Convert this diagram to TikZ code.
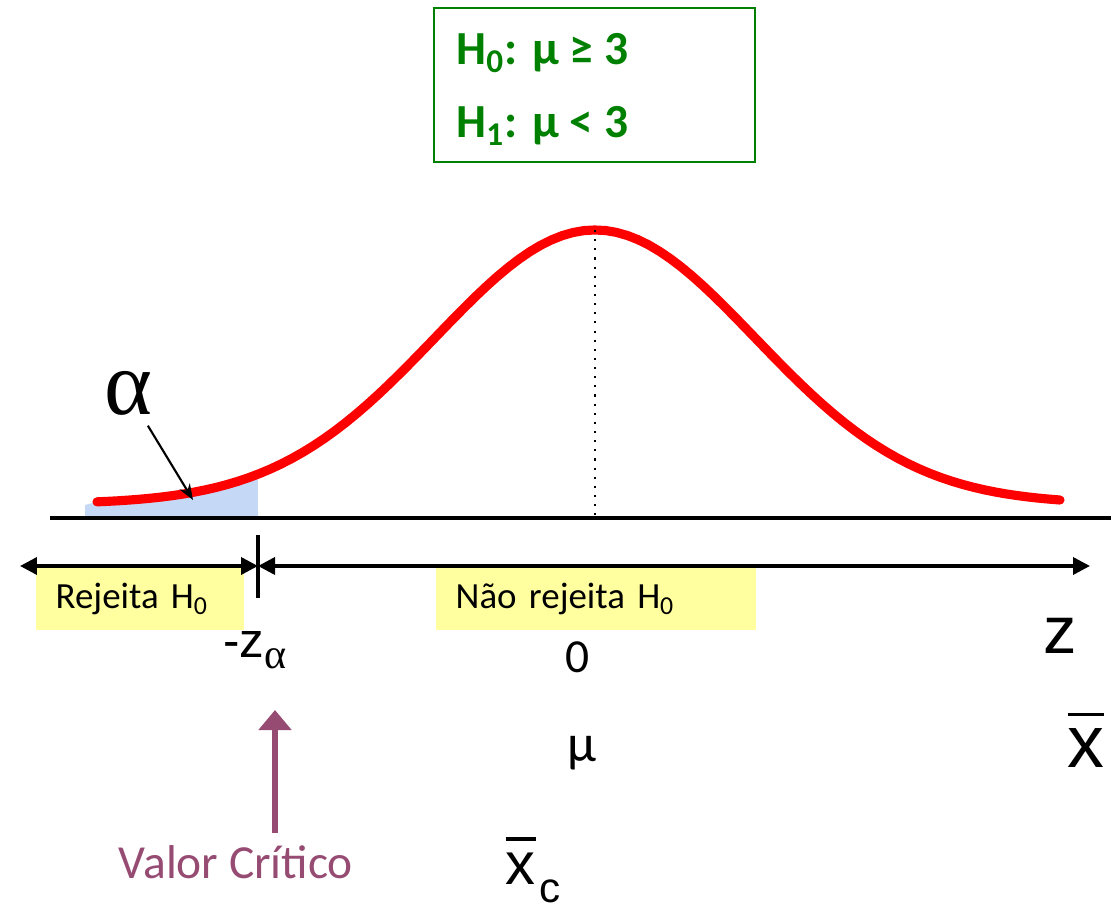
\documentclass[tikz,border=0pt]{standalone}
\usepackage{fontspec}
\usepackage{amsmath}
\setmainfont{Carlito}
\newfontfamily\arialfont{Liberation Sans}
\newfontfamily\gregofont{Liberation Serif}
\usetikzlibrary{arrows.meta,positioning,calc}
\definecolor{testeGreen}  {RGB}{0,  128,   0}
\definecolor{curvaRed}    {RGB}{255,  0,   0}
\definecolor{alphaBlue}   {RGB}{197, 217, 246}
\definecolor{zonaYellow}  {RGB}{255, 255, 160}
\definecolor{criticoMauve}{RGB}{150,  75, 115}
\newcommand{\xbarra}[1]{\vbox{\hrule height 1pt\kern 3.5pt\hbox{#1}}}

\begin{document}
\begin{tikzpicture}[
  zona/.style={fill=zonaYellow,anchor=west,align=left,inner xsep=0.2cm,
               minimum height=0.62cm,font=\fontsize{10.5}{12}\selectfont},
  eixo/.style={{Triangle[length=0.17cm,width=0.17cm]}-{Triangle[length=0.17cm,width=0.17cm]},
               line width=1pt},
  rotulo/.style={font=\arialfont\fontsize{#1}{#1}\selectfont}]
        \useasboundingbox (0,0) rectangle (11.11,-9.07);

        % Hipoteses
        \node[draw=testeGreen,line width=0.8pt,minimum width=3.21cm,
              minimum height=1.54cm] (hip) at (5.945,-0.85){};
        \node[font=\bfseries\fontsize{13.5}{13.5}\selectfont,testeGreen,anchor=west]
              (h0) at (4.44,-0.53){H\textsubscript{0}: μ ≥ 3};
        \node[font=\bfseries\fontsize{13.5}{13.5}\selectfont,testeGreen,anchor=west]
              (h1) at (4.44,-1.26){H\textsubscript{1}: μ < 3};

        % Area alpha
        \fill[alphaBlue] (0.85,-5.18) -- (0.85,-5.05)
              -- plot[domain=0.97:2.58,samples=30] (\x,{-5.04+2.74*exp(-((\x-5.95)/1.6)^2/2)})
              -- (2.58,-5.18) -- cycle;

        % Eixo e curva
        \coordinate (ini) at (0.50,-5.18);
        \coordinate (fim) at (11.11,-5.18);
        \draw[line width=1.1pt] (ini) -- (fim);
        \draw[curvaRed,line width=2.6pt,line cap=round,domain=0.97:10.60,samples=90]
              plot (\x,{-5.04+2.74*exp(-((\x-5.95)/1.6)^2/2)});
        \coordinate (pico) at (5.95,-2.30);
        \coordinate (media) at (5.95,-5.18);
        \draw[dotted,line width=0.6pt] (pico) -- (media);

        % alpha
        \node[font=\gregofont\fontsize{26}{26}\selectfont,inner sep=0.1cm] (alfa) at (1.28,-3.93){α};
        \coordinate (cauda) at (1.93,-5.00);
        \draw[-{Stealth[length=0.16cm,width=0.12cm]},line width=0.6pt] (alfa) -- (cauda);

        % Regioes
        \coordinate (esq) at (0.20,-5.66);
        \coordinate (crit) at (2.58,-5.66);
        \coordinate (dir) at (10.90,-5.66);
        \node[zona,text width=1.68cm] (rej) at (0.35,-5.99){Rejeita H\textsubscript{0}};
        \node[zona,text width=2.80cm] (nrej) at (4.35,-5.99){Não rejeita H\textsubscript{0}};
        \draw[eixo] (esq) -- (crit);
        \draw[eixo] (crit) -- (dir);
        \draw[line width=1.1pt] ($(crit)+(0,0.31)$) -- ($(crit)+(0,-0.32)$);

        % Rotulos dos eixos
        \node[rotulo=14] (zalfa) at (2.55,-6.50){-z\raisebox{-3pt}{\gregofont\fontsize{12}{12}\selectfont α}};
        \node[font=\fontsize{13.5}{13.5}\selectfont] (zero) at (5.78,-6.57){0};
        \node[rotulo=19] (zeta) at (10.60,-6.36){z};
        \node[font=\fontsize{15}{15}\selectfont] (mu) at (5.82,-7.53){μ};
        \node[rotulo=21] (xbar) at (10.86,-7.40){\xbarra{x}};
        \node[rotulo=17] (xc) at (5.33,-8.70){\xbarra{x}\kern1pt\raisebox{-5pt}{\fontsize{12}{12}\selectfont c}};

        % Valor critico
        \node[font=\fontsize{13.5}{13.5}\selectfont,criticoMauve] (valor) at (2.36,-8.62){Valor Crítico};
        \coordinate (seta) at (2.75,-7.10);
        \draw[-{Triangle[length=0.2cm,width=0.32cm]},criticoMauve,line width=1.5pt]
              (valor.north -| seta) -- (seta);
\end{tikzpicture}
\end{document}
